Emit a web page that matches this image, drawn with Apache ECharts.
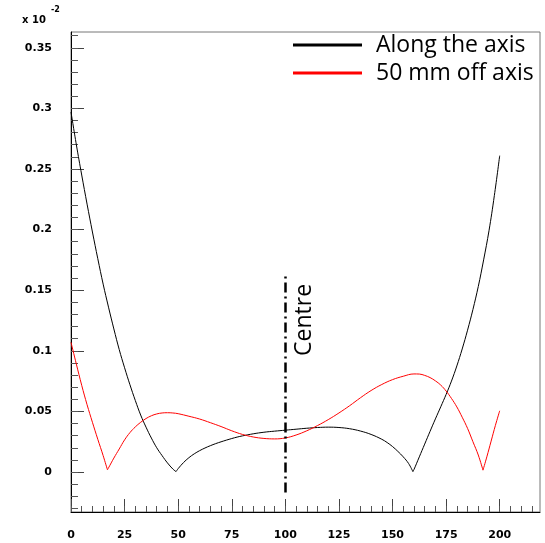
<!DOCTYPE html>
<html lang="en">

<head>
    <meta charset="UTF-8">
    <title>Along the axis vs 50 mm off axis</title>
    <script src="https://cdn.jsdelivr.net/npm/echarts/dist/echarts.min.js"></script>
    <style>
        body { margin: 0; background: #fff; }
    </style>
</head>

<body>
    <div id="chart" style="width: 545px; height: 543px;"></div>
    <script>
        // black curve: along the axis
        const alongX = [0, 2.5, 5, 7.5, 10, 12.5, 15, 17.5, 20, 22.5, 25, 27.5, 30, 32.5, 35, 37.5, 40, 42.5, 45, 47.5, 49,
            50, 52.5, 55, 57.5, 60, 62.5, 65, 67.5, 70, 72.5, 75, 77.5, 80, 85, 90, 95, 100, 105, 110, 115, 120, 125, 130,
            135, 140, 145, 147.5, 150, 152.5, 155, 157.5, 159.5,
            160, 162.5, 165, 167.5, 170, 172.5, 175, 177.5, 180, 182.5, 185, 187.5, 190, 192.5, 195, 197.5, 200];
        const alongY = [0.297, 0.270, 0.245, 0.221, 0.198, 0.176, 0.155, 0.136, 0.118, 0.101, 0.086, 0.072, 0.059, 0.047, 0.037, 0.028, 0.020, 0.0135, 0.0075, 0.0025, 0.0003,
            0.0028, 0.0078, 0.0118, 0.0150, 0.0176, 0.0198, 0.0217, 0.0234, 0.0249, 0.0263, 0.0276, 0.0288, 0.0298, 0.0315, 0.0328, 0.0337, 0.0345, 0.0353, 0.0361, 0.0367, 0.0370, 0.0367, 0.0357,
            0.0338, 0.0310, 0.0270, 0.0243, 0.0210, 0.0170, 0.0125, 0.0070, 0.0003,
            0.002, 0.0125, 0.023, 0.0335, 0.0438, 0.0538, 0.064, 0.075, 0.0875, 0.1015, 0.117, 0.134, 0.153, 0.175, 0.199, 0.228, 0.261];

        // red curve: 50 mm off axis
        const offX = [0, 2.5, 5, 7.5, 10, 12.5, 15, 17, 17.5, 20, 22.5, 25, 27.5, 30, 32.5, 35, 37.5, 40, 42.5, 45, 47.5, 50,
            55, 60, 65, 70, 75, 80, 85, 90, 95, 100, 105, 110, 115, 120, 125, 130, 135, 140, 145, 150, 155, 160, 162.5, 165,
            167.5, 170, 172.5, 175, 177.5, 180, 182.5, 185, 187.5, 190, 192.2, 194, 196, 198, 200];
        const offY = [0.107, 0.089, 0.0715, 0.0555, 0.041, 0.027, 0.0135, 0.0018, 0.0034, 0.0115, 0.019, 0.0265, 0.0325, 0.0372, 0.041, 0.0441, 0.0464, 0.0479, 0.0487, 0.0489, 0.0487, 0.0481,
            0.0460, 0.0437, 0.0407, 0.0375, 0.0340, 0.0310, 0.0289, 0.0277, 0.0273, 0.0281, 0.0305, 0.0340, 0.0383, 0.0432, 0.0487, 0.0547, 0.0612, 0.0672, 0.0722, 0.0762, 0.0790, 0.0809, 0.0808, 0.0797,
            0.0779, 0.0752, 0.0717, 0.0668, 0.0607, 0.0537, 0.0452, 0.0360, 0.0250, 0.0140, 0.0015, 0.0125, 0.0255, 0.0385, 0.0505];

        // ticks and labels
        const xMajor = [0, 25, 50, 75, 100, 125, 150, 175, 200];
        const xMinor = [];
        for (let v = 0; v <= 215; v += 5) xMinor.push(v);
        const yMajor = [0, 0.05, 0.1, 0.15, 0.2, 0.25, 0.3, 0.35];
        const yMinor = [];
        for (let i = -3; i <= 36; i++) yMinor.push(i / 100);

        // centre marker
        const centreX = 100;
        const centreFrom = -0.017;
        const centreTo = 0.162;
        const centreLabelY = 0.1255;

        const names = ['Along the axis', '50 mm off axis'];
        const colors = ['#000', '#ff0000'];

        // cut a curve at its sharp zeros so each piece can be smoothed
        // without rounding off the V
        function pieces(xs, ys) {
            const out = [];
            let cur = [];
            for (let i = 0; i < xs.length; i++) {
                cur.push([xs[i], ys[i]]);
                if (i > 0 && i < xs.length - 1 && ys[i] < 0.005 && ys[i] < ys[i - 1] && ys[i] < ys[i + 1]) {
                    out.push(cur);
                    cur = [[xs[i], ys[i]]];
                }
            }
            out.push(cur);
            return out;
        }

        const tickFont = { fontFamily: 'DejaVu Sans', fontWeight: 'bold', fontSize: 11, color: '#000' };

        const series = [];
        [[alongX, alongY], [offX, offY]].forEach(([xs, ys], k) => {
            pieces(xs, ys).forEach(seg => {
                series.push({
                    name: names[k],
                    type: 'line',
                    data: seg,
                    smooth: 0.4,
                    showSymbol: false,
                    color: colors[k],
                    lineStyle: { color: colors[k], width: 1 }
                });
            });
        });

        // dash-dot centre line
        series[0].markLine = {
            silent: true,
            symbol: ['none', 'none'],
            label: { show: false },
            lineStyle: { color: '#000', width: 2.5, type: [10, 4, 2, 4] },
            data: [[{ coord: [centreX, centreFrom] }, { coord: [centreX, centreTo] }]]
        };

        const chart = echarts.init(document.getElementById('chart'));

        const options = {
            animation: false,
            grid: {
                left: 71, right: 5, top: 32, bottom: 31,
                show: true, borderColor: '#777', borderWidth: 1
            },
            legend: {
                orient: 'vertical',
                left: 288, top: 28,
                itemWidth: 69, itemHeight: 3,
                itemGap: 4,
                icon: 'rect',
                selectedMode: false,
                data: names,
                textStyle: { fontFamily: 'Open Sans', fontSize: 23, color: '#000', lineHeight: 24, padding: [0, 0, 0, 9] }
            },
            xAxis: [
                {
                    type: 'value', min: 0, max: 218.8, position: 'bottom',
                    axisLine: { onZero: false, lineStyle: { color: '#000', width: 1 } },
                    axisTick: { inside: true, length: 13, customValues: xMajor, lineStyle: { color: '#444' } },
                    axisLabel: Object.assign({ customValues: xMajor, margin: 18 }, tickFont),
                    splitLine: { show: false }
                },
                {
                    type: 'value', min: 0, max: 218.8, position: 'bottom',
                    axisLine: { show: false, onZero: false },
                    axisTick: { inside: true, length: 6, customValues: xMinor, lineStyle: { color: '#555' } },
                    axisLabel: { show: false },
                    splitLine: { show: false }
                }
            ],
            yAxis: [
                {
                    type: 'value', min: -0.033, max: 0.363, position: 'left',
                    axisLine: { show: true, onZero: false, lineStyle: { color: '#000', width: 1 } },
                    axisTick: { show: true, inside: true, length: 13, customValues: yMajor, lineStyle: { color: '#444' } },
                    axisLabel: Object.assign({ customValues: yMajor, margin: 19 }, tickFont),
                    splitLine: { show: false }
                },
                {
                    type: 'value', min: -0.033, max: 0.363, position: 'left',
                    axisLine: { show: false, onZero: false },
                    axisTick: { show: true, inside: true, length: 7, customValues: yMinor, lineStyle: { color: '#555' } },
                    axisLabel: { show: false },
                    splitLine: { show: false }
                }
            ],
            series: series
        };

        chart.setOption(options);

        const p = chart.convertToPixel({ xAxisIndex: 0, yAxisIndex: 0 }, [centreX, centreLabelY]);
        chart.setOption({
            graphic: [
                {
                    type: 'text', left: 22, top: 15,
                    style: { text: 'x 10', font: 'bold 10px "DejaVu Sans"', fill: '#000' }
                },
                {
                    type: 'text', left: 51, top: 6,
                    style: { text: '-2', font: 'bold 8px "DejaVu Sans"', fill: '#000' }
                },
                {
                    type: 'text', x: p[0] + 19, y: p[1], rotation: Math.PI / 2,
                    style: { text: 'Centre', font: '23px "Open Sans"', fill: '#000', align: 'center', verticalAlign: 'middle' }
                }
            ]
        });
    </script>
</body>

</html>
